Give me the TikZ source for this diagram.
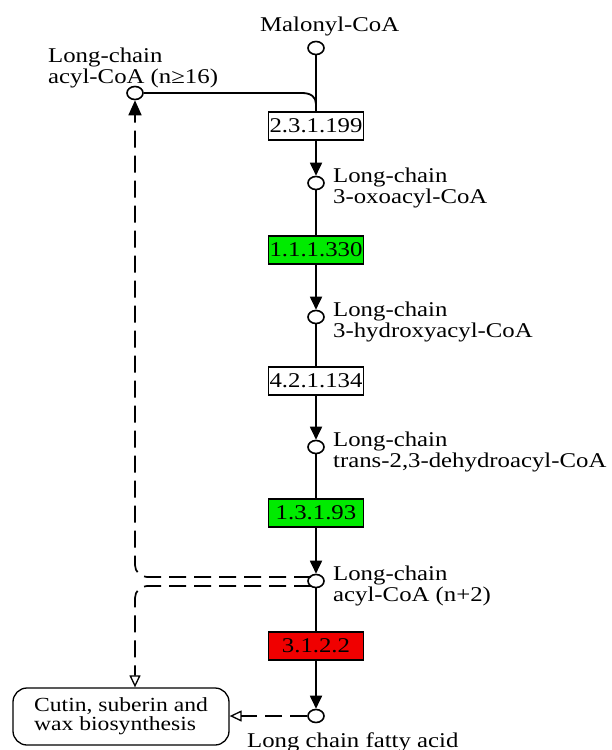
\documentclass[tikz,border=0pt]{standalone}
\usepackage{fontspec}
\newfontfamily\kf[FakeStretch=1.18]{Liberation Serif}
\usetikzlibrary{shapes.geometric,arrows.meta}
\definecolor{kgreen}{RGB}{0,235,0}
\definecolor{kred}{RGB}{240,0,0}
\tikzset{
  lbl/.style={font=\kf\fontsize{21}{18}\selectfont, inner sep=0pt, align=left, anchor=base west},
  cpd/.style={ellipse, draw, line width=1.6pt, fill=white, minimum width=16pt, minimum height=13pt, inner sep=0pt},
  enz/.style={draw, line width=1.4pt, minimum width=95pt, minimum height=28pt, inner sep=0pt, font=\kf\fontsize{21}{18}\selectfont},
  rx/.style={line width=1.8pt},
  rxa/.style={line width=1.8pt, -{Triangle[length=13pt,width=12pt]}},
  rel/.style={line width=1.7pt, dash pattern=on 17pt off 8pt},
  opena/.style={-{Triangle[open,length=12pt,width=11pt,line width=1.3pt]}},
  fulla/.style={-{Triangle[length=15pt,width=13pt]}}
}
\begin{document}
\begin{tikzpicture}[x=1pt,y=-1pt]
\useasboundingbox (0,0) rectangle (611,750);
% compounds
\node[cpd] (m) at (316,48) {};
\node[cpd] (c16) at (135,93) {};
\node[cpd] (oxo) at (316,183) {};
\node[cpd] (hyd) at (316,317) {};
\node[cpd] (deh) at (316,447) {};
\node[cpd] (acyl) at (316,581) {};
\node[cpd] (fa) at (316,716) {};
% enzymes
\node[enz] (b1) at (316,126) {2.3.1.199};
\node[enz, fill=kgreen] (b2) at (316,250) {1.1.1.330};
\node[enz] (b3) at (316,381) {4.2.1.134};
\node[enz, fill=kgreen] (b4) at (316,513) {1.3.1.93};
\node[enz, fill=kred] (b5) at (316,646) {3.1.2.2};
% map
\node[draw, line width=1.3pt, rounded corners=14pt, minimum width=216pt, minimum height=57pt, inner sep=0pt, align=left, font=\kf\fontsize{20}{19}\selectfont] (cutin) at (121,716.5) {Cutin, suberin and\\wax biosynthesis};
% labels (base anchor = last line)
\node[lbl] (lm) at (260,31) {Malonyl-CoA};
\node[lbl] (l16) at (48,83) {Long-chain\\acyl-CoA (n≥16)};
\node[lbl] (loxo) at (333,203) {Long-chain\\3-oxoacyl-CoA};
\node[lbl] (lhyd) at (333,337) {Long-chain\\3-hydroxyacyl-CoA};
\node[lbl] (ldeh) at (333,467) {Long-chain\\trans-2,3-dehydroacyl-CoA};
\node[lbl] (lacyl) at (333,601) {Long-chain\\acyl-CoA (n+2)};
\node[lbl] (lfa) at (247,747) {Long chain fatty acid};
% main chain
\coordinate (j) at (316,104);
\draw[rx] (m) -- (b1);
\draw[rx] (c16) -- (302,93) .. controls (311,93) and (316,97) .. (j);
\draw[rxa] (b1) -- (oxo);
\draw[rx] (oxo) -- (b2);
\draw[rxa] (b2) -- (hyd);
\draw[rx] (hyd) -- (b3);
\draw[rxa] (b3) -- (deh);
\draw[rx] (deh) -- (b4);
\draw[rxa] (b4) -- (acyl);
\draw[rx] (acyl) -- (b5);
\draw[rxa] (b5) -- (fa);
% dashed relations
\coordinate (d1) at (311,577);
\coordinate (d2) at (311,586);
\draw[rel, rounded corners=12pt, fulla] (d1) -| (c16);
\draw[rel, rounded corners=12pt, opena] (d2) -| (cutin.north -| c16);
\draw[rel, opena] (fa) -- (cutin.east |- fa);
\end{tikzpicture}
\end{document}
